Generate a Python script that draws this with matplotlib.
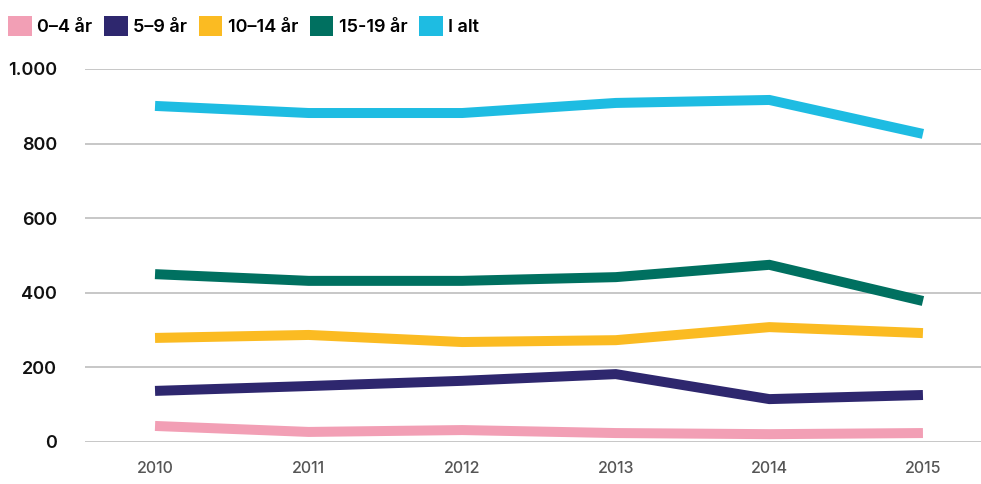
import matplotlib
matplotlib.use("Agg")
import matplotlib.pyplot as plt
from matplotlib.patches import Patch
from matplotlib.ticker import FuncFormatter

years = [2010, 2011, 2012, 2013, 2014, 2015]
series_names = ["0–4 år", "5–9 år", "10–14 år", "15-19 år", "I alt"]
age_0_4 = [43, 27, 32, 24, 21, 24]
age_5_9 = [137, 150, 164, 182, 115, 126]
age_10_14 = [279, 287, 268, 273, 308, 292]
age_15_19 = [450, 432, 432, 442, 475, 378]
total = [901, 882, 882, 909, 917, 826]
y_ticks = [0, 200, 400, 600, 800, 1000]

colors = ["#f29fb5", "#2e276e", "#fbbb22", "#007060", "#1ebce2"]
all_series = [age_0_4, age_5_9, age_10_14, age_15_19, total]

plt.rcParams['font.family'] = ['Inter', 'DejaVu Sans']

fig = plt.figure(figsize=(9.81, 4.84), dpi=100)
ax = fig.add_axes([85/981, 42/484, 896/981, 373/484])

for vals, c in zip(all_series, colors):
    ax.plot(years, vals, color=c, lw=7.2, solid_capstyle='butt', solid_joinstyle='miter')

ax.set_xlim(2009.544, 2015.378)
ax.set_ylim(0, 1000)
ax.set_yticks(y_ticks)
ax.yaxis.set_major_formatter(FuncFormatter(lambda v, p: f"{int(v):,}".replace(",", ".")))
ax.set_xticks(years)
ax.grid(axis='y', color='#bdbdbd', lw=1.2)
ax.set_axisbelow(True)
for s in ax.spines.values():
    s.set_visible(False)
ax.tick_params(axis='y', length=0, pad=20, labelsize=13, labelcolor='#111111')
ax.tick_params(axis='x', length=0, pad=14, labelsize=11.5, labelcolor='#555555')
for t in ax.get_yticklabels():
    t.set_fontweight(600)
for t in ax.get_xticklabels():
    t.set_fontweight(500)

handles = [Patch(facecolor=c, edgecolor='none') for c in colors]
fig.legend(handles, series_names, loc='upper left', bbox_to_anchor=(3/981, 1 - 11/484),
           ncol=5, frameon=False, handlelength=1.3, handleheight=1.3,
           handletextpad=0.3, columnspacing=0.65, borderaxespad=0, borderpad=0.3,
           prop={'weight': 600, 'size': 13})

fig.savefig("out.png", dpi=100)
